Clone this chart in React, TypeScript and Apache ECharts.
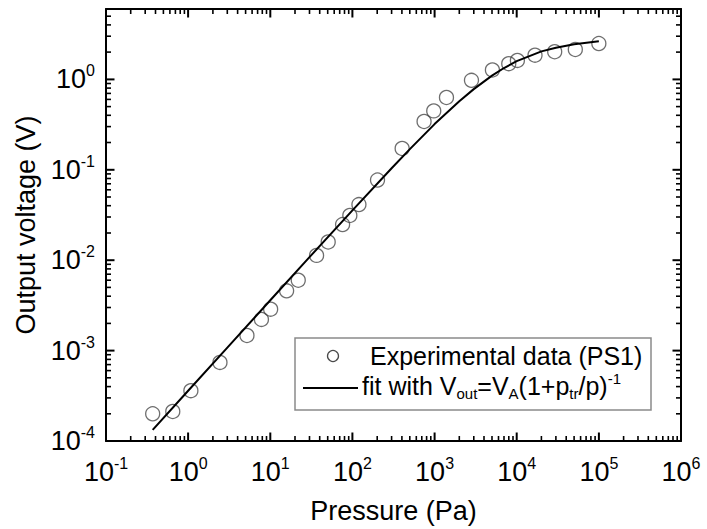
import React, { useEffect, useRef } from 'react';
import * as echarts from 'echarts';

// Experimental data (PS1)
const pressure = [0.37, 0.65, 1.08, 2.44, 5.2, 7.8, 10.1, 15.8, 21.9, 36.6, 50.7, 75.9, 93, 120, 202, 403, 745, 977, 1396, 2813, 5060, 8000, 10190, 16700, 29000, 51700, 100000];
const voltage = [2.0e-4, 2.12e-4, 3.6e-4, 7.4e-4, 1.47e-3, 2.21e-3, 2.87e-3, 4.58e-3, 6.0e-3, 1.13e-2, 1.59e-2, 2.48e-2, 3.12e-2, 4.12e-2, 7.7e-2, 0.172, 0.342, 0.448, 0.63, 0.975, 1.27, 1.49, 1.62, 1.85, 2.02, 2.14, 2.49];

// Fit curve
const fitPressure = [0.37, 1, 3, 10, 30, 100, 300, 500, 1000, 2000, 3000, 5000, 7000, 10000, 20000, 30000, 50000, 100000];
const fitVoltage = [1.33e-4, 3.6e-4, 1.08e-3, 3.6e-3, 1.08e-2, 3.55e-2, 0.104, 0.169, 0.32, 0.574, 0.78, 1.1, 1.335, 1.59, 2.04, 2.24, 2.45, 2.64];

// Axis ranges and tick positions
const xMin = 0.1;
const xMax = 1e6;
const yMin = 1e-4;
const yMax = 6;
const xMajorTicks = [0.1, 1, 10, 100, 1000, 1e4, 1e5, 1e6];
const yMajorTicks = [1e-4, 1e-3, 1e-2, 1e-1, 1];
const minorMultipliers = [2, 3, 4, 5, 6, 7, 8, 9];

const legendLabels = ['Experimental data (PS1)', 'fit with V{sub|out}=V{sub|A}(1+p{sub|tr}/p){sup|-1}'];

const FONT = 'Liberation Sans, Arial, sans-serif';

const labelRich = {
  b: { fontSize: 27, fontFamily: FONT, color: '#000', lineHeight: 30 },
  s: { fontSize: 16, fontFamily: FONT, color: '#000', padding: [0, 0, 17, 0] },
};

const powFormatter = (val: number) => {
  const l = Math.log10(val);
  const e = Math.round(l);
  if (Math.abs(l - e) > 1e-6) return '';
  return `{b|10}{s|${e}}`;
};

const axisLineStyle = { color: '#000', width: 2 };

export default function App() {
  const ref = useRef<HTMLDivElement>(null);
  useEffect(() => {
    if (!ref.current) return;
    const chart = echarts.init(ref.current, null, { renderer: 'svg' });
    const option: any = {
      animation: false,
      backgroundColor: '#fff',
      grid: { left: 106, right: 26, top: 9, bottom: 85, containLabel: false },
      xAxis: [
        {
          type: 'log', logBase: 10, min: xMin, max: xMax, position: 'bottom',
          axisLine: { show: true, lineStyle: axisLineStyle },
          axisTick: { show: false },
          axisLabel: { formatter: powFormatter, rich: labelRich, margin: 14, showMinLabel: true, showMaxLabel: true },
          splitLine: { show: false },
          name: 'Pressure (Pa)', nameLocation: 'middle', nameGap: 56,
          nameTextStyle: { fontSize: 27, fontFamily: FONT, color: '#000' },
        },
        {
          type: 'log', logBase: 10, min: xMin, max: xMax, position: 'top',
          axisLine: { show: true, lineStyle: axisLineStyle },
          axisTick: { show: false },
          axisLabel: { show: false },
          splitLine: { show: false },
        },
      ],
      yAxis: [
        {
          type: 'log', logBase: 10, min: yMin, max: yMax, position: 'left',
          axisLine: { show: true, lineStyle: axisLineStyle },
          axisTick: { show: false },
          axisLabel: { formatter: powFormatter, rich: labelRich, margin: 11 },
          splitLine: { show: false },
          name: 'Output voltage (V)', nameLocation: 'middle', nameGap: 67, nameRotate: 90,
          nameTextStyle: { fontSize: 27, fontFamily: FONT, color: '#000' },
        },
        {
          type: 'log', logBase: 10, min: yMin, max: yMax, position: 'right',
          axisLine: { show: true, lineStyle: axisLineStyle },
          axisTick: { show: false },
          axisLabel: { show: false },
          splitLine: { show: false },
        },
      ],
      series: [
        {
          name: 'Experimental data (PS1)',
          type: 'scatter', xAxisIndex: 0, yAxisIndex: 0,
          data: pressure.map((p, i) => [p, voltage[i]]),
          symbol: 'circle', symbolSize: 14,
          itemStyle: { color: 'rgba(0,0,0,0)', borderColor: '#4a4a4a', borderWidth: 1.3 },
        },
        {
          name: 'fit',
          type: 'line', xAxisIndex: 0, yAxisIndex: 0,
          data: fitPressure.map((p, i) => [p, fitVoltage[i]]),
          showSymbol: false, symbol: 'none', smooth: false,
          lineStyle: { color: '#000', width: 2 },
        },
      ],
    };
    chart.setOption(option);

    // Ticks on all four sides (pointing inward), placed through the grid's own scales
    const px = (x: number, y: number) => chart.convertToPixel({ gridIndex: 0 }, [x, y]) as number[];
    const pA = px(xMin, yMin);
    const pB = px(xMax, yMax);
    const left = pA[0];
    const bottom = pA[1];
    const right = pB[0];
    const top = pB[1];
    const tickEls: any[] = [];
    const addX = (v: number, len: number, w: number) => {
      const x = Math.round(px(v, yMin)[0] * 10) / 10;
      tickEls.push({ type: 'rect', z: 200, silent: true, shape: { x: x - w / 2, y: bottom - len, width: w, height: len }, style: { fill: '#000' } });
      tickEls.push({ type: 'rect', z: 200, silent: true, shape: { x: x - w / 2, y: top, width: w, height: len }, style: { fill: '#000' } });
    };
    const addY = (v: number, len: number, w: number) => {
      const y = Math.round(px(xMin, v)[1] * 10) / 10;
      tickEls.push({ type: 'rect', z: 200, silent: true, shape: { x: left, y: y - w / 2, width: len, height: w }, style: { fill: '#000' } });
      tickEls.push({ type: 'rect', z: 200, silent: true, shape: { x: right - len, y: y - w / 2, width: len, height: w }, style: { fill: '#000' } });
    };
    xMajorTicks.forEach((v) => {
      addX(v, 8.5, 2);
      if (v < xMax) minorMultipliers.forEach((m) => addX(v * m, 5, 1.6));
    });
    yMajorTicks.forEach((v) => {
      addY(v, 8.5, 2);
      minorMultipliers.forEach((m) => { if (v * m < yMax) addY(v * m, 5, 1.6); });
    });

    const legendEls: any[] = [
      { type: 'rect', z: 100, shape: { x: 295, y: 338, width: 356, height: 72 }, style: { fill: '#fff', stroke: '#8a8a8a', lineWidth: 1.5 } },
      { type: 'circle', z: 101, shape: { cx: 333, cy: 356, r: 5.5 }, style: { fill: 'none', stroke: '#4a4a4a', lineWidth: 1.3 } },
      { type: 'line', z: 101, shape: { x1: 303, y1: 388, x2: 358, y2: 388 }, style: { stroke: '#000', lineWidth: 2 } },
      {
        type: 'text', z: 101, x: 370, y: 356,
        style: { text: legendLabels[0], fontSize: 25, fontFamily: FONT, fill: '#000', verticalAlign: 'middle', align: 'left' },
      },
      {
        type: 'text', z: 101, x: 362, y: 386,
        style: {
          text: legendLabels[1],
          fontSize: 25, fontFamily: FONT, fill: '#000', verticalAlign: 'middle', align: 'left',
          rich: {
            sub: { fontSize: 15, fontFamily: FONT, fill: '#000', padding: [14, 0, 0, 0] },
            sup: { fontSize: 15, fontFamily: FONT, fill: '#000', padding: [0, 0, 16, 0] },
          },
        },
      },
    ];

    chart.setOption({ graphic: [...legendEls, ...tickEls] });
    return () => chart.dispose();
  }, []);
  return <div ref={ref} style={{ position: 'fixed', left: 0, top: 0, width: 707, height: 529, background: '#fff' }} />;
}
